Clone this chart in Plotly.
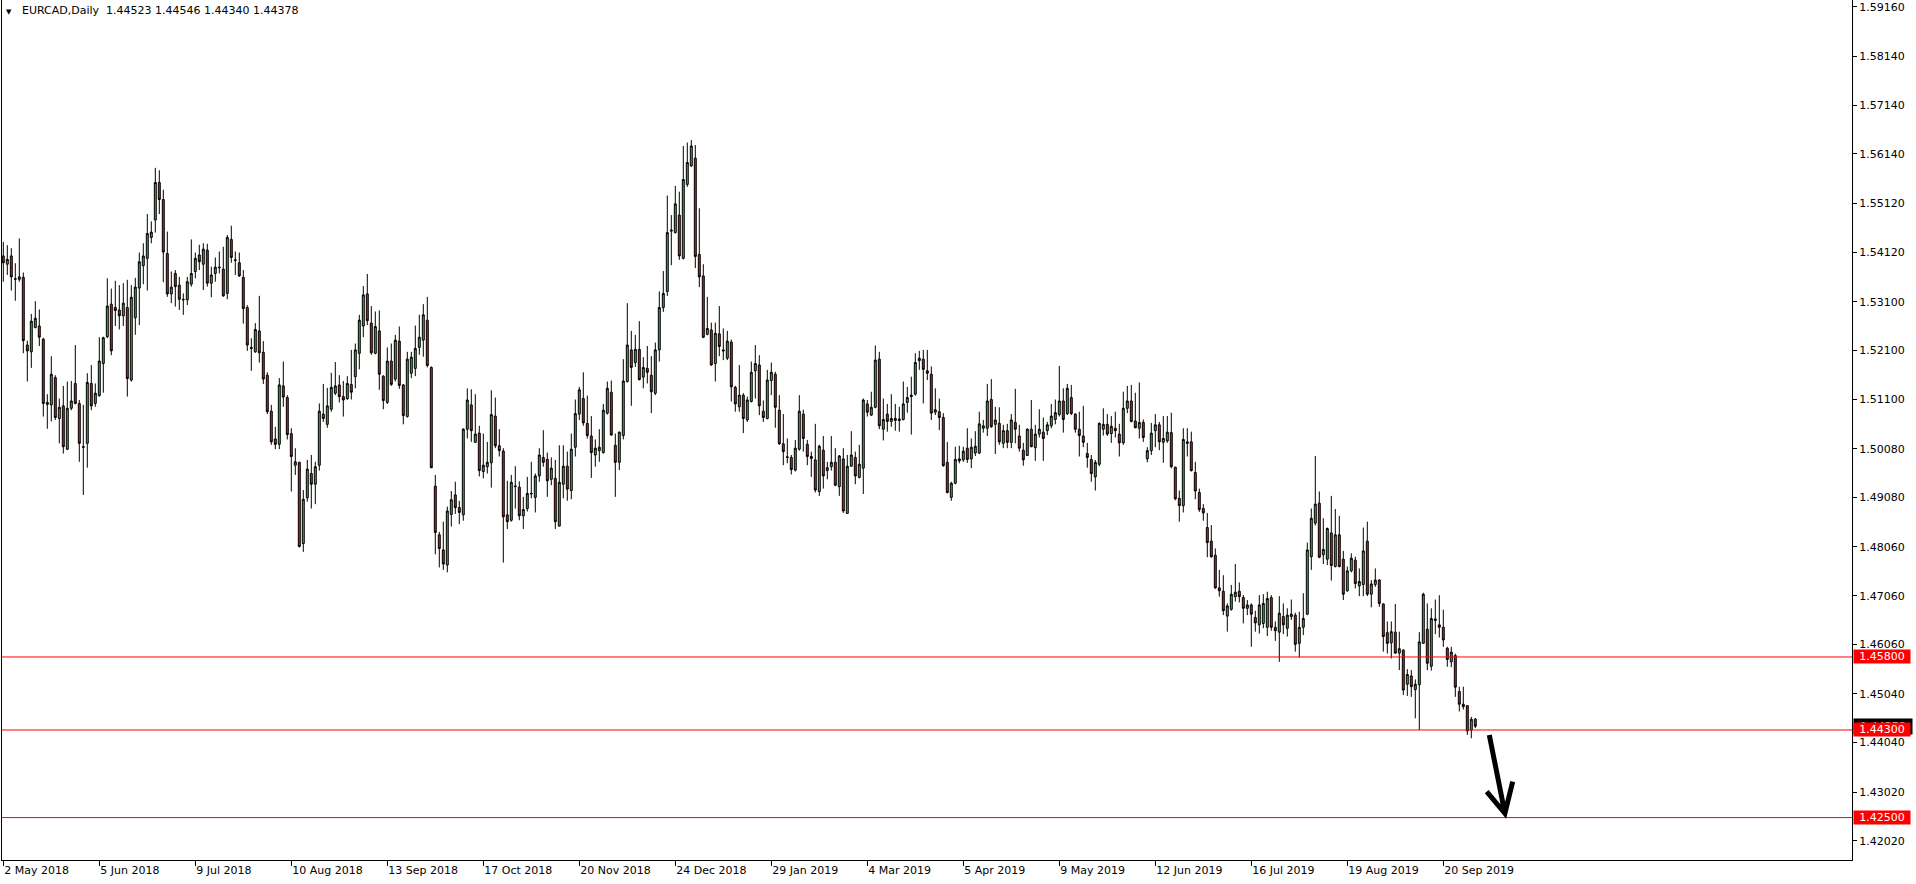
import plotly.graph_objects as go

# ---- data (EURCAD daily) ----
opens = [1.5404,1.5387,1.5404,1.5356,1.5356,1.5360,1.5221,1.5207,1.5257,1.5260,
1.5233,1.5099,1.5098,1.5154,1.5070,1.5096,1.5007,1.5091,1.5142,1.5101,
1.5012,1.5019,1.5142,1.5101,1.5117,1.5183,1.5238,1.5305,1.5298,1.5293,
1.5281,1.5298,1.5149,1.5277,1.5338,1.5384,1.5399,1.5442,1.5478,1.5555,
1.5520,1.5409,1.5326,1.5368,1.5344,1.5315,1.5314,1.5346,1.5372,1.5406,
1.5387,1.5416,1.5348,1.5368,1.5381,1.5377,1.5327,1.5438,1.5396,1.5390,
1.5360,1.5298,1.5216,1.5207,1.5250,1.5206,1.5159,1.5085,1.5028,1.5017,
1.5137,1.5113,1.5039,1.4974,1.4980,1.4813,1.4907,1.4957,1.4935,1.4974,
1.5079,1.5058,1.5089,1.5122,1.5139,1.5115,1.5111,1.5140,1.5156,1.5204,
1.5260,1.5326,1.5266,1.5204,1.5250,1.5157,1.5103,1.5188,1.5151,1.5229,
1.5139,1.5074,1.5163,1.5173,1.5216,1.5231,1.5272,1.5175,1.4931,1.4831,
1.4800,1.4769,1.4873,1.4913,1.4887,1.4872,1.5048,1.5098,1.5021,1.5040,
1.4961,1.4971,1.4979,1.5075,1.5014,1.5003,1.4872,1.4861,1.4930,1.4929,
1.4870,1.4885,1.4915,1.4908,1.4952,1.4990,1.4986,1.4945,1.4947,1.4849,
1.4935,1.4972,1.4922,1.5011,1.5079,1.5111,1.5060,1.5034,1.4995,1.5004,
1.5000,1.5081,1.5124,1.5015,1.4980,1.5035,1.5146,1.5211,1.5185,1.5212,
1.5155,1.5173,1.5159,1.5122,1.5211,1.5298,1.5331,1.5455,1.5452,1.5488,
1.5399,1.5551,1.5589,1.5605,1.5407,1.5363,1.5243,1.5252,1.5183,1.5244,
1.5211,1.5194,1.5227,1.5134,1.5094,1.5118,1.5067,1.5105,1.5168,1.5180,
1.5085,1.5070,1.5148,1.5161,1.5087,1.5018,1.4990,1.4990,1.4964,1.5007,
1.5079,1.5017,1.4992,1.4985,1.4920,1.5005,1.4963,1.4971,1.4980,1.4930,
1.4987,1.4875,1.4972,1.4990,1.4949,1.4968,1.5100,1.5077,1.5093,1.5192,
1.5048,1.5079,1.5064,1.5070,1.5069,1.5068,1.5103,1.5115,1.5120,1.5189,
1.5192,1.5168,1.5161,1.5083,1.5084,1.5072,1.4980,1.4908,1.4937,1.4987,
1.4985,1.5009,1.4987,1.4999,1.4999,1.5050,1.5050,1.5109,1.5058,1.5060,
1.5019,1.5045,1.5021,1.5062,1.5034,1.5005,1.4994,1.5048,1.5010,1.5038,
1.5042,1.5045,1.5055,1.5068,1.5078,1.5106,1.5080,1.5113,1.5079,1.5048,
1.5034,1.4998,1.4986,1.4950,1.4976,1.5048,1.5058,1.5039,1.5050,1.5038,
1.5020,1.5091,1.5106,1.5065,1.5050,1.5062,1.4987,1.5004,1.5045,1.5057,
1.5021,1.5024,1.5041,1.4970,1.4906,1.4891,1.5022,1.5022,1.4959,1.4918,
1.4885,1.4846,1.4818,1.4789,1.4722,1.4715,1.4664,1.4678,1.4704,1.4715,
1.4702,1.4680,1.4687,1.4661,1.4646,1.4649,1.4641,1.4702,1.4641,1.4631,
1.4663,1.4639,1.4663,1.4666,1.4608,1.4641,1.4668,1.4786,1.4855,1.4896,
1.4790,1.4781,1.4835,1.4766,1.4831,1.4781,1.4716,1.4757,1.4779,1.4726,
1.4729,1.4818,1.4709,1.4729,1.4738,1.4689,1.4630,1.4609,1.4631,1.4588,
1.4594,1.4524,1.4541,1.4513,1.4523,1.4608,1.4637,1.4561,1.4655,1.4646,
1.4641,1.4598,1.4570,1.4583,1.4509,1.4483,1.4480,1.4430,1.44523]

highs = [1.5433,1.5426,1.5420,1.5389,1.5440,1.5370,1.5230,1.5285,1.5311,1.5294,
1.5236,1.5120,1.5198,1.5159,1.5111,1.5137,1.5146,1.5147,1.5221,1.5108,
1.5098,1.5163,1.5180,1.5142,1.5237,1.5238,1.5358,1.5337,1.5353,1.5344,
1.5348,1.5355,1.5344,1.5359,1.5411,1.5430,1.5490,1.5475,1.5585,1.5580,
1.5540,1.5454,1.5372,1.5375,1.5361,1.5327,1.5361,1.5438,1.5411,1.5427,
1.5430,1.5429,1.5382,1.5401,1.5413,1.5423,1.5447,1.5466,1.5413,1.5411,
1.5375,1.5303,1.5235,1.5266,1.5322,1.5229,1.5165,1.5098,1.5053,1.5153,
1.5187,1.5118,1.5050,1.5009,1.4981,1.4923,1.4985,1.4995,1.4981,1.5101,
1.5141,1.5133,1.5164,1.5186,1.5159,1.5147,1.5157,1.5211,1.5224,1.5283,
1.5342,1.5367,1.5301,1.5290,1.5292,1.5159,1.5216,1.5224,1.5242,1.5259,
1.5141,1.5207,1.5207,1.5261,1.5283,1.5305,1.5320,1.5177,1.4954,1.4837,
1.4858,1.4889,1.4921,1.4940,1.4901,1.5050,1.5132,1.5130,1.5120,1.5055,
1.5039,1.5022,1.5128,1.5113,1.5048,1.5009,1.4942,1.4954,1.4972,1.4941,
1.4909,1.4950,1.4981,1.4957,1.5009,1.5046,1.5000,1.4990,1.4985,1.5015,
1.5015,1.5002,1.5039,1.5109,1.5135,1.5165,1.5117,1.5075,1.5027,1.5048,
1.5100,1.5146,1.5148,1.5039,1.5043,1.5192,1.5307,1.5250,1.5242,1.5270,
1.5196,1.5219,1.5198,1.5226,1.5331,1.5373,1.5528,1.5488,1.5548,1.5536,
1.5630,1.5637,1.5642,1.5632,1.5502,1.5387,1.5320,1.5267,1.5267,1.5301,
1.5255,1.5250,1.5232,1.5137,1.5180,1.5122,1.5115,1.5187,1.5221,1.5200,
1.5107,1.5170,1.5185,1.5166,1.5118,1.5079,1.5029,1.4995,1.5026,1.5118,
1.5088,1.5026,1.5002,1.5059,1.5016,1.5034,1.4981,1.5034,1.5009,1.4995,
1.5009,1.4995,1.5044,1.5002,1.5016,1.5111,1.5108,1.5125,1.5220,1.5207,
1.5111,1.5100,1.5120,1.5100,1.5094,1.5146,1.5135,1.5156,1.5204,1.5209,
1.5211,1.5211,1.5177,1.5132,1.5111,1.5081,1.5022,1.4940,1.5012,1.5014,
1.5012,1.5050,1.5029,1.5044,1.5084,1.5067,1.5141,1.5151,1.5094,1.5093,
1.5057,1.5059,1.5079,1.5131,1.5057,1.5020,1.5050,1.5108,1.5057,1.5089,
1.5072,1.5063,1.5100,1.5109,1.5178,1.5132,1.5141,1.5139,1.5081,1.5084,
1.5096,1.5020,1.4995,1.4985,1.5062,1.5091,1.5079,1.5075,1.5084,1.5059,
1.5125,1.5137,1.5139,1.5123,1.5144,1.5068,1.5011,1.5061,1.5079,1.5063,
1.5075,1.5075,1.5082,1.4971,1.4922,1.5050,1.5050,1.5043,1.4981,1.4926,
1.4894,1.4876,1.4851,1.4803,1.4759,1.4748,1.4690,1.4728,1.4771,1.4733,
1.4707,1.4697,1.4690,1.4675,1.4707,1.4709,1.4714,1.4707,1.4653,1.4705,
1.4690,1.4680,1.4698,1.4671,1.4673,1.4711,1.4815,1.4885,1.4993,1.4920,
1.4865,1.4846,1.4911,1.4884,1.4870,1.4798,1.4766,1.4793,1.4786,1.4762,
1.4846,1.4858,1.4738,1.4762,1.4740,1.4690,1.4653,1.4653,1.4689,1.4632,
1.4596,1.4555,1.4553,1.4534,1.4631,1.4712,1.4690,1.4680,1.4698,1.4707,
1.4677,1.4601,1.4601,1.4587,1.4519,1.4519,1.4481,1.4457,1.44546]

lows = [1.5351,1.5365,1.5333,1.5312,1.5351,1.5204,1.5146,1.5174,1.5255,1.5219,
1.5074,1.5049,1.5064,1.5067,1.5019,1.4998,1.5005,1.5087,1.5099,1.4981,
1.4913,1.4969,1.5087,1.5094,1.5115,1.5123,1.5235,1.5200,1.5260,1.5253,
1.5260,1.5115,1.5146,1.5242,1.5262,1.5346,1.5333,1.5430,1.5452,1.5490,
1.5350,1.5320,1.5307,1.5300,1.5293,1.5283,1.5303,1.5341,1.5358,1.5375,
1.5334,1.5341,1.5319,1.5351,1.5368,1.5320,1.5315,1.5390,1.5365,1.5361,
1.5265,1.5209,1.5168,1.5205,1.5185,1.5141,1.5079,1.5016,1.5007,1.5007,
1.5094,1.5027,1.4920,1.4954,1.4805,1.4796,1.4899,1.4885,1.4894,1.4963,
1.5063,1.5051,1.5084,1.5118,1.5103,1.5074,1.5108,1.5109,1.5132,1.5171,
1.5237,1.5262,1.5201,1.5202,1.5129,1.5089,1.5100,1.5137,1.5146,1.5131,
1.5058,1.5072,1.5153,1.5157,1.5201,1.5197,1.5175,1.4968,1.4791,1.4764,
1.4759,1.4754,1.4848,1.4874,1.4853,1.4860,1.5029,1.5022,1.5020,1.4951,
1.4947,1.4957,1.4928,1.5009,1.4992,1.4774,1.4843,1.4858,1.4885,1.4861,
1.4843,1.4879,1.4906,1.4877,1.4940,1.4971,1.4909,1.4933,1.4843,1.4848,
1.4906,1.4901,1.4904,1.4992,1.5067,1.5055,1.5029,1.4948,1.4971,1.4981,
1.4998,1.5078,1.5035,1.4909,1.4964,1.5027,1.5144,1.5096,1.5176,1.5148,
1.5132,1.5142,1.5081,1.5118,1.5187,1.5289,1.5322,1.5385,1.5450,1.5396,
1.5397,1.5546,1.5587,1.5379,1.5340,1.5235,1.5241,1.5178,1.5146,1.5198,
1.5190,1.5190,1.5105,1.5084,1.5084,1.5040,1.5063,1.5103,1.5111,1.5077,
1.5063,1.5068,1.5118,1.5051,1.5016,1.4974,1.4978,1.4955,1.4961,1.5004,
1.5002,1.4974,1.4950,1.4918,1.4911,1.4926,1.4945,1.4963,1.4931,1.4911,
1.4876,1.4874,1.4971,1.4935,1.4947,1.4915,1.5074,1.5075,1.5091,1.5048,
1.5025,1.5043,1.5053,1.5045,1.5043,1.5066,1.5082,1.5037,1.5117,1.5170,
1.5101,1.5149,1.5067,1.5077,1.5046,1.4971,1.4916,1.4901,1.4935,1.4978,
1.4981,1.4979,1.4968,1.4993,1.4997,1.5041,1.5034,1.5051,1.4997,1.5016,
1.5009,1.5009,1.5009,1.5019,1.5002,1.4973,1.4993,1.5011,1.4983,1.5031,
1.4983,1.5036,1.5050,1.5058,1.5074,1.5041,1.5077,1.5077,1.5041,1.4992,
1.5011,1.4969,1.4940,1.4922,1.4972,1.5035,1.5034,1.5020,1.5031,1.4992,
1.5016,1.5081,1.5062,1.5050,1.5029,1.5022,1.4980,1.4995,1.5011,1.5005,
1.4979,1.5020,1.4968,1.4902,1.4858,1.4877,1.4992,1.4961,1.4904,1.4878,
1.4860,1.4785,1.4784,1.4720,1.4704,1.4666,1.4632,1.4675,1.4694,1.4692,
1.4649,1.4666,1.4601,1.4632,1.4628,1.4639,1.4623,1.4634,1.4613,1.4570,
1.4627,1.4622,1.4656,1.4591,1.4579,1.4625,1.4666,1.4759,1.4850,1.4783,
1.4771,1.4769,1.4737,1.4764,1.4764,1.4697,1.4714,1.4754,1.4721,1.4705,
1.4705,1.4705,1.4682,1.4724,1.4683,1.4591,1.4587,1.4577,1.4586,1.4553,
1.4502,1.4500,1.4498,1.4454,1.4430,1.4607,1.4553,1.4552,1.4627,1.4620,
1.4601,1.4560,1.4559,1.4498,1.4468,1.4472,1.4420,1.4413,1.44340]

closes = [1.5390,1.5397,1.5361,1.5357,1.5361,1.5230,1.5209,1.5270,1.5276,1.5237,
1.5101,1.5103,1.5161,1.5072,1.5093,1.5012,1.5091,1.5106,1.5101,1.5019,
1.5011,1.5144,1.5096,1.5122,1.5188,1.5236,1.5301,1.5209,1.5292,1.5281,
1.5307,1.5152,1.5319,1.5340,1.5392,1.5404,1.5450,1.5453,1.5555,1.5520,
1.5412,1.5326,1.5340,1.5341,1.5315,1.5314,1.5351,1.5368,1.5399,1.5392,
1.5418,1.5348,1.5365,1.5381,1.5380,1.5322,1.5442,1.5401,1.5395,1.5363,
1.5296,1.5221,1.5214,1.5253,1.5205,1.5151,1.5084,1.5022,1.5017,1.5139,
1.5114,1.5037,1.4992,1.4981,1.4807,1.4904,1.4966,1.4935,1.4971,1.5085,
1.5070,1.5096,1.5134,1.5137,1.5115,1.5108,1.5142,1.5124,1.5211,1.5272,
1.5324,1.5271,1.5205,1.5259,1.5161,1.5107,1.5188,1.5140,1.5231,1.5138,
1.5076,1.5192,1.5196,1.5214,1.5237,1.5283,1.5179,1.4969,1.4836,1.4803,
1.4771,1.4880,1.4903,1.4887,1.4877,1.5048,1.5108,1.5045,1.5038,1.4963,
1.4974,1.4980,1.5078,1.5014,1.5004,1.4868,1.4858,1.4939,1.4931,1.4870,
1.4883,1.4916,1.4916,1.4952,1.4995,1.4980,1.4942,1.4968,1.4858,1.4939,
1.4972,1.4925,1.5007,1.5080,1.5129,1.5061,1.5035,1.5000,1.5009,1.5011,
1.5087,1.5132,1.5036,1.4980,1.5042,1.5147,1.5221,1.5175,1.5212,1.5150,
1.5175,1.5165,1.5125,1.5211,1.5298,1.5327,1.5452,1.5457,1.5511,1.5404,
1.5561,1.5596,1.5630,1.5403,1.5361,1.5237,1.5255,1.5180,1.5245,1.5218,
1.5209,1.5229,1.5135,1.5100,1.5118,1.5070,1.5108,1.5165,1.5183,1.5096,
1.5072,1.5149,1.5165,1.5093,1.5018,1.5002,1.4991,1.4965,1.5009,1.5085,
1.5029,1.4992,1.4988,1.4923,1.5013,1.4952,1.4969,1.4980,1.4933,1.4993,
1.4880,1.4972,1.4995,1.4952,1.4976,1.5108,1.5083,1.5093,1.5190,1.5055,
1.5068,1.5064,1.5070,1.5066,1.5066,1.5100,1.5113,1.5118,1.5185,1.5194,
1.5171,1.5163,1.5081,1.5088,1.5072,1.4973,1.4918,1.4937,1.4986,1.4983,
1.5003,1.4986,1.5011,1.5013,1.5059,1.5055,1.5106,1.5053,1.5067,1.5022,
1.5045,1.5021,1.5067,1.5048,1.5009,1.4985,1.5048,1.5012,1.5038,1.5048,
1.5029,1.5057,1.5075,1.5082,1.5106,1.5068,1.5132,1.5080,1.5048,1.5035,
1.5021,1.4990,1.4957,1.4980,1.5060,1.5058,1.5038,1.5054,1.5045,1.5020,
1.5091,1.5106,1.5064,1.5051,1.5062,1.5031,1.5004,1.5040,1.5057,1.5022,
1.5029,1.5042,1.4971,1.4905,1.4891,1.5027,1.5019,1.4963,1.4921,1.4883,
1.4876,1.4815,1.4786,1.4722,1.4716,1.4675,1.4685,1.4709,1.4713,1.4704,
1.4680,1.4687,1.4668,1.4650,1.4687,1.4690,1.4700,1.4641,1.4634,1.4670,
1.4646,1.4666,1.4668,1.4606,1.4641,1.4659,1.4800,1.4865,1.4894,1.4785,
1.4801,1.4844,1.4768,1.4831,1.4766,1.4709,1.4757,1.4783,1.4731,1.4735,
1.4798,1.4709,1.4730,1.4738,1.4690,1.4622,1.4608,1.4632,1.4588,1.4597,
1.4512,1.4544,1.4519,1.4524,1.4611,1.4709,1.4567,1.4659,1.4658,1.4641,
1.4615,1.4575,1.4590,1.4518,1.4483,1.4478,1.4428,1.4452,1.44378]

bar_index = list(range(len(closes)))

date_labels = ["2 May 2018", "5 Jun 2018", "9 Jul 2018", "10 Aug 2018", "13 Sep 2018",
               "17 Oct 2018", "20 Nov 2018", "24 Dec 2018", "29 Jan 2019", "4 Mar 2019",
               "5 Apr 2019", "9 May 2019", "12 Jun 2019", "16 Jul 2019", "19 Aug 2019",
               "20 Sep 2019"]
date_label_bars = [0, 24, 48, 72, 96, 120, 144, 168, 192, 216, 240, 264, 288, 312, 336, 360]

price_ticks = [1.5916, 1.5814, 1.5714, 1.5614, 1.5512, 1.5412, 1.5310, 1.5210, 1.5110,
               1.5008, 1.4908, 1.4806, 1.4706, 1.4606, 1.4504, 1.4404, 1.4302, 1.4202]
price_tick_text = ["1.59160", "1.58140", "1.57140", "1.56140", "1.55120", "1.54120",
                   "1.53100", "1.52100", "1.51100", "1.50080", "1.49080", "1.48060",
                   "1.47060", "1.46060", "1.45040", "1.44040", "1.43020", "1.42020"]

level_prices = [1.45800, 1.44300, 1.42500]
level_labels = ["1.45800", "1.44300", "1.42500"]
bid_price = 1.44378

# hand-drawn arrow (bar index, price)
arrow_shaft = [(371.5, 1.44197), (375.4, 1.42588)]
arrow_left = (370.85, 1.43032)
arrow_right = (377.35, 1.43238)

x_range = [-0.325, 462.175]
y_range = [1.416286, 1.59299]

FONT = "DejaVu Sans"

fig = go.Figure()
fig.add_trace(go.Candlestick(
    x=bar_index, open=opens, high=highs, low=lows, close=closes,
    increasing=dict(line=dict(color="black", width=1), fillcolor="#3cb043"),
    decreasing=dict(line=dict(color="black", width=1), fillcolor="#dc1c1c"),
    whiskerwidth=0, showlegend=False, hoverinfo="skip",
))

shapes = []
for lv in level_prices:
    shapes.append(dict(type="line", xref="paper", x0=0, x1=1, yref="y", y0=lv, y1=lv,
                       line=dict(color="#ff0000", width=1), layer="above"))
(sx0, sy0), (sx1, sy1) = arrow_shaft
path = (f"M {sx0},{sy0} L {sx1},{sy1} "
        f"M {arrow_left[0]},{arrow_left[1]} L {sx1},{sy1} L {arrow_right[0]},{arrow_right[1]}")
shapes.append(dict(type="path", xref="x", yref="y", path=path,
                   line=dict(color="black", width=5), layer="above"))

annotations = []
annotations.append(dict(xref="paper", yref="y", x=1, y=bid_price, xanchor="left",
                        yanchor="middle", xshift=1, text=f"{bid_price:.5f}",
                        showarrow=False, bgcolor="black", width=56, borderpad=1,
                        font=dict(family=FONT, size=11, color="white")))
for lv, lab in zip(level_prices, level_labels):
    annotations.append(dict(xref="paper", yref="y", x=1, y=lv, xanchor="left",
                            yanchor="middle", xshift=1, text=lab, showarrow=False,
                            bgcolor="#ff0000", width=56, borderpad=0,
                            font=dict(family=FONT, size=11, color="white")))
annotations.append(dict(xref="paper", yref="paper", x=0, y=1, xanchor="left", yanchor="top",
                        xshift=2, yshift=-6, text="▼", showarrow=False,
                        font=dict(family=FONT, size=7, color="black")))
annotations.append(dict(xref="paper", yref="paper", x=0, y=1, xanchor="left", yanchor="top",
                        xshift=18, yshift=-2,
                        text="EURCAD,Daily\u00a0\u00a0" + " ".join(
                            f"{v:.5f}" for v in (opens[-1], highs[-1], lows[-1], closes[-1])),
                        showarrow=False, font=dict(family=FONT, size=11, color="black")))

fig.update_layout(
    width=1916, height=884,
    margin=dict(l=2, r=64, t=0, b=24),
    paper_bgcolor="white", plot_bgcolor="white",
    shapes=shapes, annotations=annotations,
    showlegend=False, hovermode=False,
    xaxis=dict(range=x_range, rangeslider=dict(visible=False), showgrid=False,
               zeroline=False, showline=True, linecolor="black", linewidth=1,
               mirror=False, ticks="outside", ticklen=5, tickcolor="black",
               tickvals=date_label_bars, ticktext=date_labels,
               ticklabelposition="outside right",
               tickfont=dict(family=FONT, size=11, color="black")),
    yaxis=dict(range=y_range, side="right", showgrid=False, zeroline=False,
               showline=True, linecolor="black", linewidth=1, mirror=True,
               ticks="outside", ticklen=4, tickcolor="black",
               tickvals=price_ticks, ticktext=price_tick_text,
               tickfont=dict(family=FONT, size=11, color="black")),
)

fig.write_html("out.html",
               config={"displayModeBar": False, "staticPlot": True},
               post_script="document.body.style.margin='0';document.body.style.overflow='hidden';")
